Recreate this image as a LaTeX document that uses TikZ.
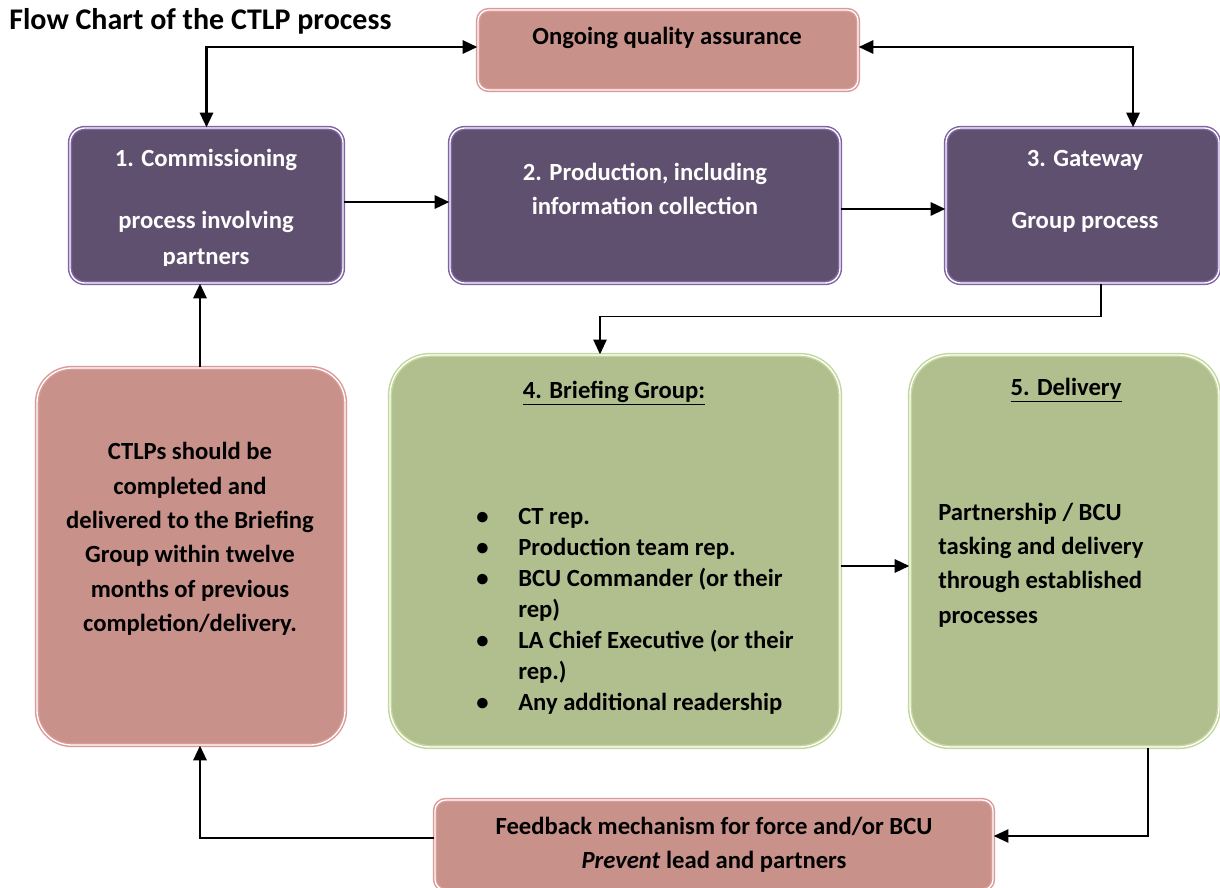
\documentclass[tikz,border=0pt]{standalone}
\usepackage{fontspec}
\setmainfont{Carlito}
\usetikzlibrary{arrows.meta,calc}
\definecolor{purpfill}{HTML}{605070}
\definecolor{purpline}{HTML}{8064A2}
\definecolor{pinkfill}{HTML}{C8918A}
\definecolor{pinkline}{HTML}{D99A98}
\definecolor{greenfill}{HTML}{B1BF8F}
\definecolor{greenline}{HTML}{C3D69B}
\tikzset{
  boxbase/.style={draw, line width=1.1pt, double=white, double distance=1pt, inner sep=0pt},
  purpbox/.style={boxbase, draw=purpline, fill=purpfill, rounded corners=11pt},
  pinkbox/.style={boxbase, draw=pinkline, fill=pinkfill},
  greenbox/.style={boxbase, draw=greenline, fill=greenfill, rounded corners=30pt},
  wtxt/.style={text=white, font=\bfseries\fontsize{18.5}{25.8}\selectfont, align=center, inner sep=0pt},
  btxt/.style={text=black, font=\bfseries\fontsize{18.5}{25.8}\selectfont, align=center, inner sep=0pt},
  conn/.style={line width=1.6pt, -{Triangle[length=11pt,width=10pt]}},
  thinconn/.style={line width=1.1pt, -{Triangle[length=11pt,width=10pt]}},
}
\newcommand\bul{\makebox[31.5pt][l]{•}}
\begin{document}
\begin{tikzpicture}[x=0.75pt,y=-0.75pt]
\useasboundingbox (0,0) rectangle (1220,888);
\clip (0,0) rectangle (1220,888);
% title
\node[btxt, anchor=west, font=\bfseries\fontsize{22.5}{26}\selectfont] (title) at (9,21) {Flow Chart of the CTLP process};
% boxes
\node[pinkbox, rounded corners=8pt, minimum width=285pt, minimum height=60pt] (qa) at (668,50) {};
\node[purpbox, minimum width=204.75pt, minimum height=116.25pt] (b1) at (206.5,205.5) {};
\node[purpbox, minimum width=292.5pt, minimum height=116.25pt] (b2) at (645,205.5) {};
\node[purpbox, minimum width=204.75pt, minimum height=116.25pt] (b3) at (1082.5,205.5) {};
\node[greenbox, minimum width=337.5pt, minimum height=294pt] (b4) at (615,551) {};
\node[greenbox, minimum width=231.75pt, minimum height=294pt] (b5) at (1064.5,551) {};
\node[pinkbox, rounded corners=26pt, minimum width=231pt, minimum height=282.75pt] (ctlp) at (191,556.5) {};
\node[pinkbox, rounded corners=8pt, minimum width=418.5pt, minimum height=67.5pt] (fb) at (714,845) {};
% texts
\node[btxt] (qat) at (667,38) {Ongoing quality assurance};
\node[wtxt] (b1a) at (206,160) {1. Commissioning};
\node[wtxt] (b1b) at (206,222) {process involving};
\begin{scope}
\clip (70,240) rectangle (343,265);
\node[wtxt] (b1c) at (206,259) {partners};
\end{scope}
\node[wtxt] (b2t) at (645,189) {2. Production, including\\information collection};
\node[wtxt] (b3a) at (1085,160) {3. Gateway};
\node[wtxt] (b3b) at (1085,222) {Group process};
\node[btxt] (b4t) at (614,393) {\underline{4. Briefing Group:}};
\node[btxt, align=left, anchor=west, font=\bfseries\fontsize{18.5}{23.25}\selectfont] (b4l) at (476,611) {\bul CT rep.\\\bul Production team rep.\\\bul BCU Commander (or their\\\hspace*{31.5pt}rep)\\\bul LA Chief Executive (or their\\\hspace*{31.5pt}rep.)\\\bul Any additional readership};
\node[btxt] (b5t) at (1066,390) {\underline{5. Delivery}};
\node[btxt, align=left, anchor=west] (b5l) at (938,565) {Partnership / BCU\\tasking and delivery\\through established\\processes};
\node[btxt] (ctlpt) at (190,539) {CTLPs should be\\completed and\\delivered to the Briefing\\Group within twelve\\months of previous\\completion/delivery.};
\node[btxt] (fbt) at (714,845) {Feedback mechanism for force and/or BCU\\\textit{Prevent} lead and partners};
% connectors
\draw[conn, {Triangle[length=11pt,width=10pt]}-{Triangle[length=11pt,width=10pt]}] (b1.north) |- ([yshift=2.25pt]qa.west);
\draw[conn, {Triangle[length=11pt,width=10pt]}-{Triangle[length=11pt,width=10pt]}] ([yshift=2.25pt]qa.east) -| ([xshift=37.9pt]b3.north);
\draw[conn] ([yshift=2.6pt]b1.east) -- ([yshift=2.6pt]b2.west);
\draw[conn] ([yshift=-2.6pt]b2.east) -- ([yshift=-2.6pt]b3.west);
\draw[thinconn] ([xshift=13.9pt]b3.south) -- ++(0,33) -| ([xshift=-11.25pt]b4.north);
\draw[conn] ([yshift=-11.25pt]b4.east) -- ([yshift=-11.25pt]b5.west);
\draw[thinconn] ([xshift=62.6pt]b5.south) |- ([yshift=6.75pt]fb.east);
\draw[conn] ([yshift=5pt]fb.west) -| ([xshift=6.75pt]ctlp.south);
\draw[conn] ([xshift=6.75pt]ctlp.north) -- ([xshift=6.75pt]ctlp.north |- b1.south);
\end{tikzpicture}
\end{document}
